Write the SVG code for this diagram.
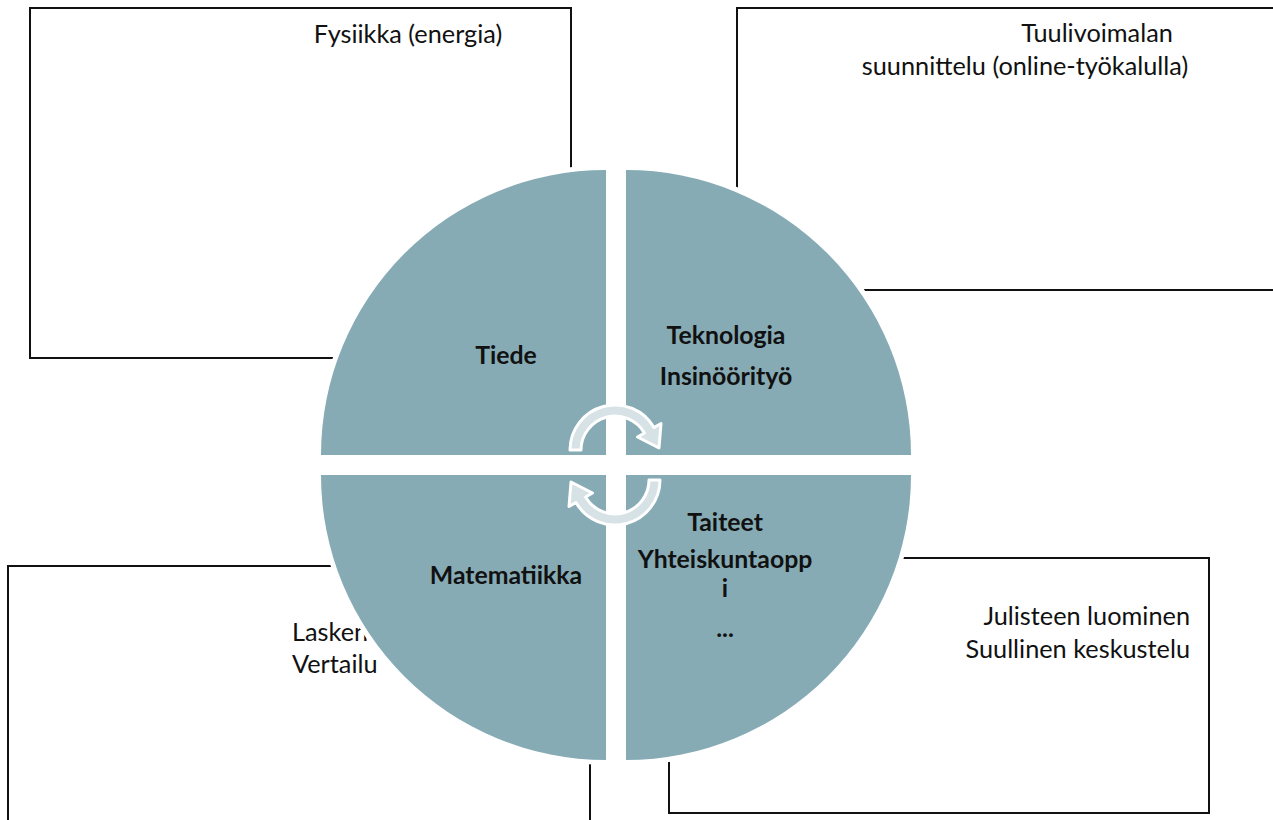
<svg xmlns="http://www.w3.org/2000/svg" width="1273" height="820" viewBox="0 0 1273 820">
<style>
.box{fill:none;stroke:#111;stroke-width:2}
.q{fill:#86abb5;stroke:#fff;stroke-width:10;paint-order:stroke}
.t{font-family:Lato,"Open Sans",sans-serif;font-size:25.3px;fill:#111}
.b{font-family:Lato,"Open Sans",sans-serif;font-size:24.8px;font-weight:bold;fill:#111;text-anchor:middle}
.arr{fill:#d6e2e5;stroke:#fff;stroke-width:3;stroke-linejoin:round}
</style>
<rect width="1273" height="820" fill="#fff"/>
<g id="box-fysiikka">
<rect class="box" x="30" y="8" width="541" height="350"/>
<text class="t" x="408" y="43" text-anchor="middle">Fysiikka (energia)</text>
</g>
<g id="box-tuulivoimala">
<rect class="box" x="737" y="8" width="560" height="282"/>
<text class="t" x="1097" y="42" text-anchor="middle">Tuulivoimalan</text>
<text class="t" x="1025" y="75" text-anchor="middle">suunnittelu (online-työkalulla)</text>
</g>
<g id="box-laskenta">
<rect class="box" x="8" y="566" width="582" height="280"/>
<text class="t" x="292" y="641">Lasken</text>
<text class="t" x="292" y="673">Vertailu</text>
</g>
<g id="box-juliste">
<rect class="box" x="669" y="558" width="540" height="255"/>
<text class="t" x="1190" y="625" text-anchor="end">Julisteen luominen</text>
<text class="t" x="1190" y="658" text-anchor="end">Suullinen keskustelu</text>
</g>
<g id="q-tiede">
<path class="q" d="M606,455 L321,455 A285,285 0 0 1 606,170 Z"/>
<text class="b" x="506" y="364">Tiede</text>
</g>
<g id="q-teknologia">
<path class="q" d="M626,455 L626,170 A285,285 0 0 1 911,455 Z"/>
<text class="b" x="726" y="344">Teknologia</text>
<text class="b" x="726" y="385">Insinöörityö</text>
</g>
<g id="q-matematiikka">
<path class="q" d="M606,475 L606,760 A285,285 0 0 1 321,475 Z"/>
<text class="b" x="506" y="584">Matematiikka</text>
</g>
<g id="q-taiteet">
<path class="q" d="M626,475 L911,475 A285,285 0 0 1 626,760 Z"/>
<text class="b" x="725" y="531">Taiteet</text>
<text class="b" x="725" y="568">Yhteiskuntaopp</text>
<text class="b" x="725" y="597">i</text>
<text class="b" x="725" y="637">...</text>
</g>
<g id="connectors">
<path id="arrow-top" class="arr" d="M570,450 A45,45 0 0 1 654,427.5 L661,423.5 L659,448 L637.5,437 L644.4,433 A34,34 0 0 0 581,450 Z"/>
<path id="arrow-bottom" class="arr" transform="rotate(180 615 465)" d="M570,450 A45,45 0 0 1 654,427.5 L661,423.5 L659,448 L637.5,437 L644.4,433 A34,34 0 0 0 581,450 Z"/>
</g>
</svg>
